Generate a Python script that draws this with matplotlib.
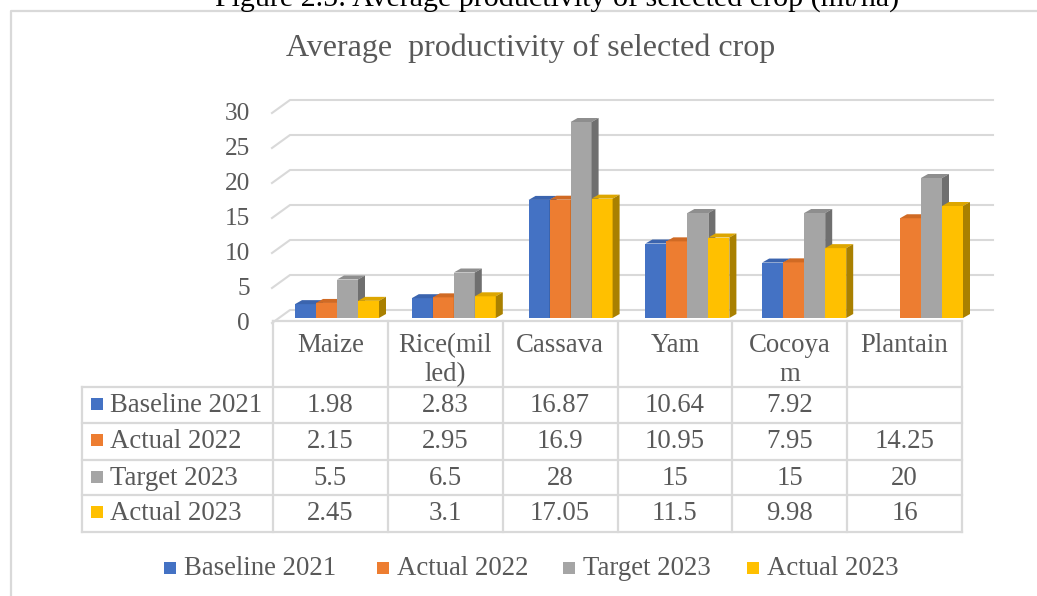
import numpy as np
import matplotlib
matplotlib.use('Agg')
import matplotlib.pyplot as plt
from matplotlib.patches import Polygon, Rectangle

plt.rcParams['font.family'] = ['Liberation Serif', 'DejaVu Serif']

# crop yields in mt/ha, one list per series (nan = no value)
crops = ['Maize', 'Rice(mil\nled)', 'Cassava', 'Yam', 'Cocoya\nm', 'Plantain']
series = ['Baseline 2021', 'Actual 2022', 'Target 2023', 'Actual 2023']
baseline_2021 = [1.98, 2.83, 16.87, 10.64, 7.92, np.nan]
actual_2022 = [2.15, 2.95, 16.9, 10.95, 7.95, 14.25]
target_2023 = [5.5, 6.5, 28, 15, 15, 20]
actual_2023 = [2.45, 3.1, 17.05, 11.5, 9.98, 16]
yticks = [0, 5, 10, 15, 20, 25, 30]

values = [baseline_2021, actual_2022, target_2023, actual_2023]
front = ['#4472C4', '#ED7D31', '#A5A5A5', '#FFC000']
top = ['#3B64AE', '#D06A24', '#8E8E8E', '#DDA600']
side = ['#2D4F8E', '#A9561A', '#6F6F6F', '#A98000']
txt = '#595959'
line = '#D9D9D9'
fs = 19.3

W, H = 1037, 596
fig = plt.figure(figsize=(W / 100, H / 100), dpi=100)

# full-figure pixel axes for frame, titles, table and legend
ov = fig.add_axes([0, 0, 1, 1])
ov.set_xlim(0, W)
ov.set_ylim(H, 0)
ov.axis('off')

ov.plot([11, 11, W], [H, 11, 11], color=line, lw=1.6)
ov.text(557, 7, 'Figure 2.5: Average productivity of selected crop (mt/ha)',
        ha='center', va='baseline', fontsize=21.6, color='black')
ov.text(531, 56, 'Average  productivity of selected crop',
        ha='center', va='baseline', fontsize=23, color=txt)

# chart axes: category units across, mt/ha up
X0, XU = 337, 116.8
Y0, YU = 318, 7.0
L, R, T, B = 200, W, 60, 335
ax = fig.add_axes([L / W, 1 - B / H, (R - L) / W, (B - T) / H])
ax.set_xlim((L - X0) / XU, (R - X0) / XU)
ax.set_ylim((Y0 - B) / YU, (Y0 - T) / YU)
ax.axis('off')
ax.patch.set_alpha(0)

# back wall gridlines with the floor slant on the left
xf, xb, xr = (272 - X0) / XU, (290 - X0) / XU, (993 - X0) / XU
back = 8 / YU
for v in yticks:
    ax.plot([xf, xb, xr], [v - 5 / YU, v + back, v + back],
            color=line, lw=1.5, zorder=0)
    ax.text((250 - X0) / XU, v - 12 / YU, str(v), ha='right', va='baseline',
            fontsize=18.3, color=txt)

# 3D-looking columns: front face, top face and right side
bw = 21 / XU
ddx, ddy = 7 / XU, 4 / YU
z = 1
for i in range(len(crops)):
    for j, vals in enumerate(values):
        v = vals[i]
        if np.isnan(v):
            continue
        x0 = i + (j - 2) * bw
        ax.bar(x0, v, width=bw, align='edge', color=front[j], lw=0, zorder=z)
        ax.add_patch(Polygon([(x0, v), (x0 + ddx, v + ddy),
                              (x0 + bw + ddx, v + ddy), (x0 + bw, v)],
                             closed=True, color=top[j], lw=0, zorder=z))
        ax.add_patch(Polygon([(x0 + bw, 0), (x0 + bw, v),
                              (x0 + bw + ddx, v + ddy), (x0 + bw + ddx, ddy)],
                             closed=True, color=side[j], lw=0, zorder=z))
        z += 1

# data table under the plot
cols = np.linspace(273, 962, len(crops) + 1)
rows = [387, 423, 460, 495, 532]
tl = 82
ov.plot([cols[0], cols[-1]], [321, 321], color=line, lw=1.6)
for y in rows:
    ov.plot([tl, cols[-1]], [y, y], color=line, lw=1.6)
for x in cols:
    ov.plot([x, x], [321, rows[-1]], color=line, lw=1.6)
ov.plot([tl, tl], [rows[0], rows[-1]], color=line, lw=1.6)

for i, name in enumerate(crops):
    cx = (cols[i] + cols[i + 1]) / 2
    for k, part in enumerate(name.split('\n')):
        ov.text(cx, 352 + 29 * k, part, ha='center', va='baseline',
                fontsize=fs, color=txt)

for j, (name, vals) in enumerate(zip(series, values)):
    base = rows[j] + 25
    ov.add_patch(Rectangle((91, base - 14), 12, 12, color=front[j], lw=0))
    ov.text(110, base, name, ha='left', va='baseline', fontsize=fs, color=txt)
    for i, v in enumerate(vals):
        if np.isnan(v):
            continue
        cx = (cols[i] + cols[i + 1]) / 2
        ov.text(cx, base, f'{v:g}', ha='center', va='baseline',
                fontsize=fs, color=txt)

# legend row
for j, (name, lx) in enumerate(zip(series, [164, 377, 563, 747])):
    ov.add_patch(Rectangle((lx, 562), 12, 12, color=front[j], lw=0))
    ov.text(lx + 20, 575, name, ha='left', va='baseline', fontsize=fs, color=txt)

fig.savefig('out.png', dpi=100)
